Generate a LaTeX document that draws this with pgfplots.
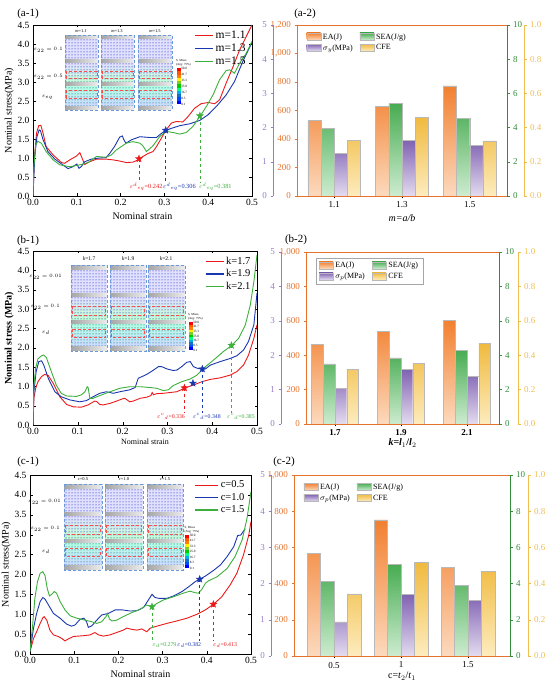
\documentclass[border=0pt]{standalone}
\usepackage{pgfplots}
\pgfplotsset{compat=1.18}
\usepackage{fontspec}
\setmainfont{Liberation Serif}
\usetikzlibrary{patterns}

\definecolor{cred}{RGB}{235,25,25}
\definecolor{cblue}{RGB}{25,55,175}
\definecolor{cgreen}{RGB}{60,175,60}
\definecolor{axo}{RGB}{230,115,45}
\definecolor{axp}{RGB}{150,125,200}
\definecolor{axg}{RGB}{50,140,60}
\definecolor{axy}{RGB}{240,190,80}
\definecolor{bo1}{RGB}{242,128,48}
\definecolor{bo2}{RGB}{252,218,190}
\definecolor{bg1}{RGB}{72,172,82}
\definecolor{bg2}{RGB}{205,236,208}
\definecolor{bp1}{RGB}{128,98,178}
\definecolor{bp2}{RGB}{228,220,240}
\definecolor{by1}{RGB}{240,186,62}
\definecolor{by2}{RGB}{253,236,190}
\definecolor{insbg}{RGB}{225,232,245}

\tikzset{
  barO/.style={draw=gray!55, top color=bo1, bottom color=bo2},
  barG/.style={draw=gray!55, top color=bg1, bottom color=bg2},
  barP/.style={draw=gray!55, top color=bp1, bottom color=bp2},
  barY/.style={draw=gray!55, top color=by1, bottom color=by2},
}

\pgfdeclareplotmark{fstar}{%
  \pgfpathmoveto{\pgfpointpolar{90}{\pgfplotmarksize}}%
  \pgfpathlineto{\pgfpointpolar{126}{0.42\pgfplotmarksize}}%
  \pgfpathlineto{\pgfpointpolar{162}{\pgfplotmarksize}}%
  \pgfpathlineto{\pgfpointpolar{198}{0.42\pgfplotmarksize}}%
  \pgfpathlineto{\pgfpointpolar{234}{\pgfplotmarksize}}%
  \pgfpathlineto{\pgfpointpolar{270}{0.42\pgfplotmarksize}}%
  \pgfpathlineto{\pgfpointpolar{306}{\pgfplotmarksize}}%
  \pgfpathlineto{\pgfpointpolar{342}{0.42\pgfplotmarksize}}%
  \pgfpathlineto{\pgfpointpolar{18}{\pgfplotmarksize}}%
  \pgfpathlineto{\pgfpointpolar{54}{0.42\pgfplotmarksize}}%
  \pgfpathclose\pgfusepathqfillstroke}

\pgfplotsset{
  lc/.style={scale only axis, anchor=south west, xmin=0, xmax=0.5, ymin=0, ymax=4.5,
    xtick={0,0.1,0.2,0.3,0.4,0.5}, ytick={0,0.5,1,1.5,2,2.5,3,3.5,4,4.5},
    /pgf/number format/fixed, /pgf/number format/fixed zerofill, /pgf/number format/precision=1,
    /pgf/number format/assume math mode=true,
    tick label style={font=\fontsize{9.5}{11}\selectfont},
    label style={font=\fontsize{10}{12}\selectfont},
    ylabel shift=-3pt,
    major tick length=2.5pt, tick style={black},
    legend cell align=left,
    legend image code/.code={\draw[##1, line width=1.2pt] (0pt,0pt) -- (18pt,0pt);},
    legend style={draw=none, fill=none, at={(0.985,0.985)}, anchor=north east, inner sep=1pt},
  },
  bc/.style={scale only axis, anchor=south west, ymin=0,
    tick label style={font=\fontsize{9}{10}\selectfont},
    label style={font=\fontsize{10}{12}\selectfont},
    /pgf/number format/assume math mode=true,
    major tick length=2.5pt, tick align=outside, xtick={0,1,2}},
  bcmain/.style={bc, ytick pos=left, xtick pos=bottom, axis line style={black!75},
    y axis line style={axo}, ytick style={axo}, yticklabel style={text=axo},
    xtick style={black},
    legend columns=2, legend cell align=left,
    legend image code/.code={\draw[##1] (0pt,-3pt) rectangle (14pt,4pt);},
    legend style={at={(0.03,0.975)}, anchor=north west, draw=none, fill=none,
      font=\fontsize{8}{9}\selectfont, /tikz/every even column/.append style={column sep=5pt}}},
  bcgreen/.style={bc, axis x line=none, axis y line*=right, y axis line style={axg,-},
    ytick style={axg}, yticklabel style={text=axg}, ymax=10, ytick={0,2,4,6,8,10}},
  bcpurple/.style={bc, axis x line=none, axis y line*=left, y axis line style={axp,-},
    ytick style={axp}, yticklabel style={text=axp}, ymax=5, ytick={0,1,2,3,4,5}},
  bcyellow/.style={bc, axis x line=none, axis y line*=right, y axis line style={axy,-},
    ytick style={axy}, yticklabel style={text=axy}, ymax=1, ytick={0,0.2,0.4,0.6,0.8,1},
    /pgf/number format/fixed, /pgf/number format/fixed zerofill, /pgf/number format/precision=1},
}

\newcommand\lattcol[4]{%
  \fill[insbg] (#1,#2) rectangle ({#1+#3},{#2+#4});
  \fill[blue!12!white] (#1,{#2+0.05*#4}) rectangle ({#1+#3},{#2+0.33*#4});
  \fill[pattern=dots, pattern color=blue!70!black] (#1,{#2+0.05*#4}) rectangle ({#1+#3},{#2+0.33*#4});
  \shade[top color=blue!12!white, bottom color=cyan!30!green!25!white] (#1,{#2+0.38*#4}) rectangle ({#1+#3},{#2+0.64*#4});
  \fill[pattern=dots, pattern color=blue!60!black] (#1,{#2+0.38*#4}) rectangle ({#1+#3},{#2+0.64*#4});
  \shade[top color=green!35!cyan!30!white, bottom color=cyan!25!blue!20!white] (#1,{#2+0.69*#4}) rectangle ({#1+#3},{#2+0.95*#4});
  \fill[pattern=dots, pattern color=green!40!blue!70!black] (#1,{#2+0.69*#4}) rectangle ({#1+#3},{#2+0.95*#4});
  \foreach \p in {0.01,0.33,0.64,0.95}{\shade[left color=gray!70, right color=gray!15] (#1,{#2+\p*#4}) rectangle ({#1+#3},{#2+(\p+0.04*1)*#4});}
  \draw[red!70, densely dashed, line width=0.25pt] ({#1+0.04*#3},{#2+0.48*#4}) rectangle ({#1+0.96*#3},{#2+0.58*#4});
  \draw[red!70, densely dashed, line width=0.25pt] ({#1+0.04*#3},{#2+0.74*#4}) rectangle ({#1+0.96*#3},{#2+0.84*#4});
  \draw[densely dashed, cyan!50!blue!60, line width=0.35pt] (#1,#2) rectangle ({#1+#3},{#2+#4});
}
\newcommand\cbar[3]{%
  \foreach \c [count=\i from 0] in {red, orange!70!red, orange, yellow, yellow!50!green, green!80!black, green!50!cyan, cyan, cyan!50!blue, blue!70!cyan, blue}{%
    \fill[\c] (#1,{#2+(#3-#2)*\i/11}) rectangle ({#1+4},{#2+(#3-#2)*(\i+1)/11});}
  \foreach \v [count=\i from 0] in {50.0,41.7,33.3,25.0,16.7,8.3,0.1}{%
    \node[anchor=west, font=\fontsize{3.3}{3.6}\selectfont, inner sep=0.3pt] at ({#1+4.3},{#2+(#3-#2)*\i/6}) {\v};}
  \node[anchor=south west, align=left, font=\fontsize{3.1}{3.5}\selectfont, inner sep=0.3pt] at ({#1-1},{#2-1.5}) {S, Mises\\(Avg: 75\%)};
}

\begin{document}
\begin{tikzpicture}
\path[use as bounding box] (0pt,0pt) rectangle (550pt,685pt);

% ================= (a-1) =================
\begin{axis}[lc, at={(33pt,489pt)}, width=219pt, height=171pt,
  xlabel={Nominal strain}, ylabel={Nominal stress(MPa)},
  legend style={font=\fontsize{11.5}{13}\selectfont}]
\addplot[cred, line width=0.9pt] coordinates {(0,0) (0.003,0.95) (0.008,1.65) (0.013,1.85) (0.018,1.86) (0.023,1.65) (0.030,1.30) (0.046,1.08) (0.065,0.88) (0.072,0.86) (0.084,0.95) (0.099,1.05) (0.107,1.14) (0.118,0.83) (0.129,0.90) (0.145,0.97) (0.167,0.97) (0.183,0.95) (0.198,0.92) (0.213,0.88) (0.228,0.89) (0.240,0.95) (0.251,1.04) (0.263,1.12) (0.274,1.17) (0.282,1.30) (0.293,1.52) (0.304,1.74) (0.316,1.92) (0.327,1.96) (0.342,1.95) (0.354,2.09) (0.369,2.31) (0.384,2.43) (0.400,2.46) (0.415,2.43) (0.426,2.53) (0.441,2.97) (0.457,3.41) (0.472,3.85) (0.487,4.20) (0.500,4.50)};
\addlegendentry{m=1.1}
\addplot[cblue, line width=0.9pt] coordinates {(0,0) (0.004,1.04) (0.009,1.56) (0.014,1.74) (0.017,1.72) (0.023,1.48) (0.034,1.17) (0.050,0.97) (0.068,0.82) (0.080,0.72) (0.091,0.77) (0.100,0.84) (0.105,0.73) (0.110,0.77) (0.118,0.90) (0.133,0.97) (0.152,1.00) (0.167,1.01) (0.175,1.12) (0.186,1.30) (0.198,1.55) (0.204,1.58) (0.207,1.49) (0.212,1.39) (0.225,1.48) (0.244,1.56) (0.266,1.54) (0.282,1.54) (0.289,1.61) (0.302,1.72) (0.316,1.78) (0.335,1.85) (0.358,1.90) (0.381,1.99) (0.400,2.14) (0.419,2.36) (0.441,2.66) (0.460,3.01) (0.479,3.54) (0.500,4.04)};
\addlegendentry{m=1.3}
\addplot[cgreen, line width=0.9pt] coordinates {(0,0) (0.002,0.77) (0.006,1.34) (0.011,1.44) (0.019,1.39) (0.030,1.17) (0.046,0.95) (0.061,0.82) (0.084,0.77) (0.107,0.82) (0.126,0.88) (0.145,1.04) (0.167,1.02) (0.179,1.08) (0.190,1.21) (0.213,1.39) (0.228,1.43) (0.244,1.39) (0.251,1.32) (0.259,1.17) (0.262,1.20) (0.274,1.32) (0.289,1.56) (0.304,1.70) (0.320,1.67) (0.335,1.63) (0.350,1.67) (0.365,1.83) (0.381,2.09) (0.396,2.36) (0.411,2.66) (0.426,3.06) (0.441,3.30) (0.449,3.32) (0.460,3.23) (0.472,3.50) (0.487,3.76) (0.500,4.07)};
\addlegendentry{m=1.5}
\addplot[cred, dashed, line width=0.6pt, forget plot] coordinates {(0.242,0.98) (0.242,0.36)};
\addplot[cblue, dashed, line width=0.6pt, forget plot] coordinates {(0.303,1.73) (0.303,0.36)};
\addplot[cgreen, dashed, line width=0.6pt, forget plot] coordinates {(0.381,2.11) (0.381,0.36)};
\addplot[cred, only marks, mark=fstar, mark size=3.6pt, forget plot] coordinates {(0.242,0.98)};
\addplot[cblue, only marks, mark=fstar, mark size=3.6pt, forget plot] coordinates {(0.303,1.73)};
\addplot[cgreen, only marks, mark=fstar, mark size=3.6pt, forget plot] coordinates {(0.381,2.11)};
\node[cred, font=\fontsize{6.3}{7}\selectfont] at (axis cs:0.258,0.24) {${\varepsilon^{d}}_{eq}$=0.242};
\node[cblue, font=\fontsize{6.3}{7}\selectfont] at (axis cs:0.334,0.24) {${\varepsilon^{d}}_{eq}$=0.306};
\node[cgreen, font=\fontsize{6.3}{7}\selectfont] at (axis cs:0.416,0.24) {${\varepsilon^{d}}_{eq}$=0.381};
\end{axis}

% ================= (a-2) =================
\begin{axis}[bcmain, at={(297pt,489pt)}, width=210pt, height=171pt, xmin=-0.55, xmax=2.55,
  ymax=1200, ytick={0,200,400,600,800,1000,1200}, xticklabels={1.1,1.3,1.5},
  xlabel={\textit{m=a/b}}]
\addplot[ybar, bar width=0.195, bar shift=-0.2925, barO] coordinates {(0,530) (1,628) (2,773)};
\addlegendentry{EA(J)}
\addlegendimage{barG}\addlegendentry{SEA(J/g)}
\addlegendimage{barP}\addlegendentry{$\sigma_y$(MPa)}
\addlegendimage{barY}\addlegendentry{CFE}
\end{axis}
\begin{axis}[bcgreen, at={(297pt,489pt)}, width=210pt, height=171pt, xmin=-0.55, xmax=2.55]
\addplot[ybar, bar width=0.195, bar shift=-0.0975, barG] coordinates {(0,3.96) (1,5.41) (2,4.55)};
\end{axis}
\begin{axis}[bcpurple, at={(273pt,489pt)}, width=234pt, height=171pt, xmin=-0.9043, xmax=2.55]
\addplot[ybar, bar width=0.195, bar shift=0.0975, barP] coordinates {(0,1.25) (1,1.63) (2,1.48)};
\end{axis}
\begin{axis}[bcyellow, at={(297pt,489pt)}, width=227pt, height=171pt, xmin=-0.55, xmax=2.801]
\addplot[ybar, bar width=0.195, bar shift=0.2925, barY] coordinates {(0,0.326) (1,0.461) (2,0.322)};
\end{axis}

% ================= (b-1) =================
\begin{axis}[lc, at={(33pt,260pt)}, width=224pt, height=174pt,
  xlabel={Nominal strain}, ylabel={\textbf{Nominal stress (MPa)}},
  xlabel style={font=\fontsize{8}{9}\selectfont, yshift=3pt},
  legend style={font=\fontsize{10.5}{12}\selectfont}]
\addplot[cred, line width=0.9pt] coordinates {(0,0) (0.002,0.69) (0.006,0.95) (0.011,1.12) (0.019,1.25) (0.026,1.31) (0.034,1.28) (0.045,1.08) (0.060,0.73) (0.075,0.53) (0.090,0.47) (0.108,0.46) (0.123,0.52) (0.138,0.62) (0.143,0.60) (0.149,0.53) (0.157,0.52) (0.172,0.56) (0.187,0.62) (0.198,0.67) (0.205,0.69) (0.216,0.60) (0.224,0.62) (0.239,0.69) (0.254,0.72) (0.263,0.76) (0.266,0.84) (0.269,0.78) (0.276,0.81) (0.291,0.82) (0.306,0.84) (0.321,0.86) (0.338,0.95) (0.347,0.99) (0.362,1.05) (0.377,1.12) (0.396,1.18) (0.418,1.22) (0.440,1.29) (0.455,1.38) (0.470,1.55) (0.481,1.81) (0.493,2.24) (0.500,2.59)};
\addlegendentry{k=1.7}
\addplot[cblue, line width=0.9pt] coordinates {(0,0) (0.002,0.86) (0.007,1.38) (0.013,1.64) (0.019,1.66) (0.024,1.55) (0.034,1.21) (0.049,0.86) (0.063,0.73) (0.082,0.65) (0.104,0.60) (0.119,0.63) (0.134,0.73) (0.149,0.82) (0.164,0.86) (0.179,0.82) (0.194,0.86) (0.216,0.91) (0.228,0.97) (0.235,1.21) (0.243,1.25) (0.254,1.31) (0.269,1.42) (0.280,1.51) (0.287,1.51) (0.299,1.45) (0.313,1.41) (0.321,1.42) (0.332,1.51) (0.343,1.62) (0.351,1.64) (0.358,1.51) (0.366,1.47) (0.378,1.44) (0.385,1.45) (0.396,1.55) (0.418,1.64) (0.440,1.72) (0.455,1.79) (0.470,1.94) (0.481,2.16) (0.493,2.59) (0.500,3.41)};
\addlegendentry{k=1.9}
\addplot[cgreen, line width=0.9pt] coordinates {(0,0) (0.002,1.03) (0.006,1.47) (0.011,1.71) (0.019,1.79) (0.024,1.81) (0.030,1.74) (0.041,1.38) (0.052,1.03) (0.063,0.82) (0.075,0.75) (0.097,0.74) (0.108,0.78) (0.116,0.86) (0.121,0.99) (0.123,0.97) (0.127,0.69) (0.134,0.69) (0.149,0.76) (0.172,0.86) (0.194,0.95) (0.216,0.99) (0.239,0.99) (0.261,0.97) (0.276,0.95) (0.291,0.89) (0.302,0.91) (0.313,1.02) (0.332,1.12) (0.351,1.19) (0.366,1.29) (0.381,1.47) (0.403,1.68) (0.425,1.90) (0.443,2.05) (0.459,2.24) (0.474,2.59) (0.485,3.10) (0.493,3.71) (0.500,4.40)};
\addlegendentry{k=2.1}
\addplot[cred, dashed, line width=0.6pt, forget plot] coordinates {(0.338,0.96) (0.338,0.31)};
\addplot[cblue, dashed, line width=0.6pt, forget plot] coordinates {(0.378,1.45) (0.378,0.31)};
\addplot[cgreen, dashed, line width=0.6pt, forget plot] coordinates {(0.443,2.06) (0.443,0.31)};
\addplot[cred, only marks, mark=fstar, mark size=3.6pt, forget plot] coordinates {(0.338,0.96)};
\addplot[cblue, only marks, mark=fstar, mark size=3.6pt, forget plot] coordinates {(0.378,1.45) (0.357,1.08)};
\addplot[cgreen, only marks, mark=fstar, mark size=3.6pt, forget plot] coordinates {(0.443,2.06)};
\node[cred, font=\fontsize{5.8}{7}\selectfont] at (axis cs:0.308,0.21) {${\varepsilon^{c}}_{d}$=0.336};
\node[cblue, font=\fontsize{5.8}{7}\selectfont] at (axis cs:0.388,0.21) {${\varepsilon^{c}}_{d}$=0.348};
\node[cgreen, font=\fontsize{5.8}{7}\selectfont] at (axis cs:0.464,0.21) {${\varepsilon^{c}}_{d}$=0.385};
\end{axis}

% ================= (b-2) =================
\begin{axis}[bcmain, at={(306pt,261pt)}, width=193pt, height=172pt, xmin=-0.439, xmax=2.485,
  ymax=1000, ytick={0,200,400,600,800,1000}, xticklabels={\textbf{1.7},\textbf{1.9},\textbf{2.1}},
  xlabel={\textbf{\textit{k}=\textit{l}$_{1}$/\textit{l}$_{2}$}},
  xlabel style={yshift=4pt},
  legend style={draw=gray!70, fill=white, at={(0.05,0.965)}}]
\addplot[ybar, bar width=0.177, bar shift=-0.267, barO] coordinates {(0,464) (1,540) (2,603)};
\addlegendentry{EA(J)}
\addlegendimage{barG}\addlegendentry{SEA(J/g)}
\addlegendimage{barP}\addlegendentry{$\sigma_p$(MPa)}
\addlegendimage{barY}\addlegendentry{CFE}
\end{axis}
\begin{axis}[bcgreen, at={(306pt,261pt)}, width=193pt, height=172pt, xmin=-0.439, xmax=2.485]
\addplot[ybar, bar width=0.177, bar shift=-0.089, barG] coordinates {(0,3.50) (1,3.85) (2,4.27)};
\end{axis}
\begin{axis}[bcpurple, at={(281pt,261pt)}, width=218pt, height=172pt, xmin=-0.818, xmax=2.485]
\addplot[ybar, bar width=0.177, bar shift=0.089, barP] coordinates {(0,1.04) (1,1.58) (2,1.38)};
\end{axis}
\begin{axis}[bcyellow, at={(306pt,261pt)}, width=212pt, height=172pt, xmin=-0.439, xmax=2.773]
\addplot[ybar, bar width=0.177, bar shift=0.267, barY] coordinates {(0,0.319) (1,0.352) (2,0.468)};
\end{axis}

% ================= (c-1) =================
\begin{axis}[lc, at={(30pt,31pt)}, width=221pt, height=179pt,
  xlabel={Nominal strain}, ylabel={Nominal stress(MPa)},
  legend style={font=\fontsize{10.5}{12}\selectfont},
  legend image code/.code={\draw[#1, line width=1.2pt] (0pt,0pt) -- (23pt,0pt);}]
\addplot[cred, line width=0.9pt] coordinates {(0,0.06) (0.008,0.39) (0.015,0.56) (0.023,0.77) (0.029,0.91) (0.032,0.94) (0.038,0.85) (0.045,0.60) (0.053,0.48) (0.064,0.44) (0.072,0.39) (0.079,0.33) (0.087,0.38) (0.098,0.44) (0.121,0.46) (0.136,0.48) (0.147,0.54) (0.155,0.48) (0.166,0.45) (0.181,0.48) (0.196,0.54) (0.211,0.60) (0.219,0.65) (0.230,0.62) (0.242,0.60) (0.253,0.63) (0.264,0.56) (0.272,0.65) (0.287,0.70) (0.310,0.77) (0.332,0.83) (0.355,0.90) (0.378,1.00) (0.397,1.11) (0.415,1.25) (0.434,1.44) (0.453,1.74) (0.468,2.03) (0.483,2.49) (0.495,2.99) (0.500,3.33)};
\addlegendentry{c=0.5}
\addplot[cblue, line width=0.9pt] coordinates {(0,0.06) (0.008,0.65) (0.015,1.02) (0.023,1.32) (0.029,1.42) (0.034,1.38) (0.042,1.23) (0.053,1.02) (0.068,0.90) (0.083,0.75) (0.094,0.70) (0.102,0.73) (0.113,0.87) (0.122,0.90) (0.128,0.81) (0.132,0.67) (0.140,0.71) (0.151,0.85) (0.162,0.98) (0.177,1.02) (0.193,1.11) (0.208,1.11) (0.227,1.08) (0.242,1.09) (0.257,1.17) (0.268,1.36) (0.276,1.50) (0.283,1.42) (0.291,1.40) (0.310,1.40) (0.325,1.46) (0.344,1.57) (0.359,1.69) (0.374,1.82) (0.384,1.88) (0.397,1.96) (0.415,2.10) (0.431,2.24) (0.446,2.45) (0.461,2.70) (0.470,2.98) (0.477,2.99) (0.483,3.09) (0.487,3.15)};
\addlegendentry{c=1.0}
\addplot[cgreen, line width=0.9pt] coordinates {(0,0.06) (0.006,0.73) (0.011,1.40) (0.017,1.82) (0.023,2.03) (0.029,2.07) (0.034,1.97) (0.039,1.65) (0.044,1.46) (0.049,1.50) (0.055,1.57) (0.060,1.53) (0.068,1.32) (0.079,1.11) (0.091,0.96) (0.106,0.90) (0.125,0.85) (0.140,0.81) (0.151,0.77) (0.162,0.81) (0.172,0.94) (0.175,1.02) (0.180,0.88) (0.185,0.83) (0.196,0.85) (0.211,0.94) (0.230,1.04) (0.249,1.12) (0.264,1.23) (0.276,1.19) (0.287,1.27) (0.302,1.36) (0.325,1.44) (0.347,1.53) (0.362,1.58) (0.374,1.54) (0.381,1.53) (0.389,1.63) (0.397,1.78) (0.404,1.84) (0.423,1.94) (0.446,2.15) (0.464,2.45) (0.480,2.87) (0.491,3.41) (0.500,4.08)};
\addlegendentry{c=1.5}
\addplot[cgreen, dashed, line width=0.6pt, forget plot] coordinates {(0.276,1.19) (0.276,0.32)};
\addplot[cblue, dashed, line width=0.6pt, forget plot] coordinates {(0.384,1.88) (0.384,0.32)};
\addplot[cred, dashed, line width=0.6pt, forget plot] coordinates {(0.415,1.25) (0.415,0.32)};
\addplot[cgreen, only marks, mark=fstar, mark size=3.6pt, forget plot] coordinates {(0.276,1.19)};
\addplot[cblue, only marks, mark=fstar, mark size=3.6pt, forget plot] coordinates {(0.384,1.88)};
\addplot[cred, only marks, mark=fstar, mark size=3.6pt, forget plot] coordinates {(0.415,1.25)};
\node[cgreen, font=\fontsize{5.8}{7}\selectfont] at (axis cs:0.304,0.22) {$\varepsilon_{d}$=0.279};
\node[cblue, font=\fontsize{5.8}{7}\selectfont] at (axis cs:0.360,0.22) {$\varepsilon_{d}$=0.382};
\node[cred, font=\fontsize{5.8}{7}\selectfont] at (axis cs:0.441,0.22) {$\varepsilon_{d}$=0.413};
\end{axis}

% ================= (c-2) =================
\begin{axis}[bcmain, at={(294pt,29pt)}, width=216pt, height=181pt, xmin=-0.597, xmax=2.627,
  ymax=1000, ytick={0,200,400,600,800,1000}, xticklabels={0.5,1,1.5},
  xlabel={c=\textit{t}$_2$/\textit{t}$_1$}, xlabel style={yshift=3pt}]
\addplot[ybar, bar width=0.2, bar shift=-0.3, barO] coordinates {(0,567) (1,752) (2,491)};
\addlegendentry{EA(J)}
\addlegendimage{barG}\addlegendentry{SEA(J/g)}
\addlegendimage{barP}\addlegendentry{$\sigma_p$(MPa)}
\addlegendimage{barY}\addlegendentry{CFE}
\end{axis}
\begin{axis}[bcgreen, at={(294pt,29pt)}, width=216pt, height=181pt, xmin=-0.597, xmax=2.627]
\addplot[ybar, bar width=0.2, bar shift=-0.1, barG] coordinates {(0,4.13) (1,5.06) (2,3.91)};
\end{axis}
\begin{axis}[bcpurple, at={(271pt,29pt)}, width=239pt, height=181pt, xmin=-0.940, xmax=2.627]
\addplot[ybar, bar width=0.2, bar shift=0.1, barP] coordinates {(0,0.94) (1,1.70) (2,1.53)};
\end{axis}
\begin{axis}[bcyellow, at={(294pt,29pt)}, width=234pt, height=181pt, xmin=-0.597, xmax=2.896]
\addplot[ybar, bar width=0.2, bar shift=0.3, barY] coordinates {(0,0.343) (1,0.517) (2,0.469)};
\end{axis}

% ================= panel labels =================
\node[font=\fontsize{11}{13}\selectfont] at (28pt,671pt) {(a-1)};
\node[font=\fontsize{11}{13}\selectfont] at (305pt,671pt) {(a-2)};
\node[font=\fontsize{11}{13}\selectfont] at (28pt,444pt) {(b-1)};
\node[font=\fontsize{11}{13}\selectfont] at (296pt,445pt) {(b-2)};
\node[font=\fontsize{11}{13}\selectfont] at (28pt,223pt) {(c-1)};
\node[font=\fontsize{11}{13}\selectfont] at (284pt,223pt) {(c-2)};

% ================= insets (decoration) =================
\begin{scope}[x=1pt, y=-1pt, shift={(0pt,685pt)}]
  % a-1
  \lattcol{65}{35}{33}{75}\lattcol{101}{35}{33}{75}\lattcol{138}{35}{34}{75}
  \foreach \cx/\t in {81/1.1,117/1.3,155/1.5}{\node[font=\fontsize{4.5}{5}\selectfont, inner sep=0pt] at (\cx,31.5) {\textit{m}=\t};}
  \node[anchor=east, font=\fontsize{3.8}{4.5}\selectfont, inner sep=0pt] at (63,50) {$\varepsilon_{22}=0.1$};
  \node[anchor=east, font=\fontsize{3.8}{4.5}\selectfont, inner sep=0pt] at (63,77) {$\varepsilon_{22}=0.5$};
  \node[anchor=east, font=\fontsize{3.8}{4.5}\selectfont, inner sep=0pt] at (53,97) {$\varepsilon_{eq}$};
  \cbar{176.5}{68}{104}
  % b-1
  \lattcol{71}{265}{36}{86}\lattcol{110}{265}{36}{86}\lattcol{148}{265}{37}{86}
  \foreach \cx/\t in {89/1.7,128/1.9,166/2.1}{\node[font=\fontsize{5.5}{6}\selectfont, inner sep=0pt] at (\cx,258.5) {\textit{k}=\t};}
  \node[anchor=east, font=\fontsize{4}{5}\selectfont, inner sep=0pt] at (62,277) {$\varepsilon_{22}=0.01$};
  \node[anchor=east, font=\fontsize{4}{5}\selectfont, inner sep=0pt] at (60,307) {$\varepsilon_{22}=0.1$};
  \node[anchor=east, font=\fontsize{4}{5}\selectfont, inner sep=0pt] at (50,333) {$\varepsilon_{d}$};
  \cbar{188.5}{322}{350}
  % c-1
  \lattcol{64}{484}{38}{86}\lattcol{105}{484}{38}{86}\lattcol{147}{484}{36}{86}
  \foreach \cx/\t in {83/0.5,124/1.0,165/1.5}{\node[font=\fontsize{4.5}{5}\selectfont, inner sep=0pt] at (\cx,479) {\textit{c}=\t};}
  \node[anchor=east, font=\fontsize{3.6}{4.5}\selectfont, inner sep=0pt] at (61,502) {$\varepsilon_{22}=0.01$};
  \node[anchor=east, font=\fontsize{3.6}{4.5}\selectfont, inner sep=0pt] at (60,529) {$\varepsilon_{22}=0.1$};
  \node[anchor=east, font=\fontsize{3.6}{4.5}\selectfont, inner sep=0pt] at (50,552) {$\varepsilon_{d}$};
  \cbar{185}{535}{568}
\end{scope}
\end{tikzpicture}
\end{document}
